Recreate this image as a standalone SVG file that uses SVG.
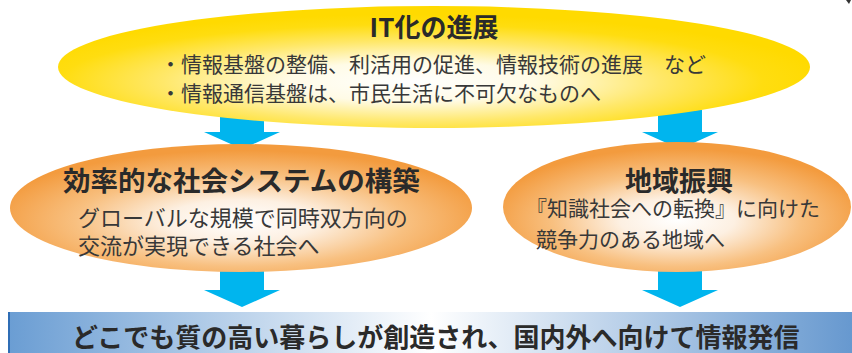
<svg xmlns="http://www.w3.org/2000/svg" width="852" height="353" viewBox="0 0 852 353">
<defs>
<radialGradient id="gy" cx="0.47" cy="0.62" r="0.55">
<stop offset="0" stop-color="#ffffff"/>
<stop offset="0.3" stop-color="#fffbe6"/>
<stop offset="0.6" stop-color="#ffe86a"/>
<stop offset="0.85" stop-color="#ffdd10"/>
<stop offset="1" stop-color="#ffda00"/>
</radialGradient>
<radialGradient id="go" cx="0.5" cy="0.6" r="0.55">
<stop offset="0" stop-color="#ffffff"/>
<stop offset="0.3" stop-color="#fdf0e2"/>
<stop offset="0.65" stop-color="#f8c080"/>
<stop offset="1" stop-color="#f39b3e"/>
</radialGradient>
<linearGradient id="gb" x1="0" y1="0" x2="1" y2="0">
<stop offset="0" stop-color="#6a9dd3"/>
<stop offset="0.5" stop-color="#ffffff"/>
<stop offset="1" stop-color="#6698cf"/>
</linearGradient>
<path id="arrow" d="M-22,0 H22 V22 H38 L0,39 L-38,22 H-22 Z"/>
</defs>
<style>
text { font-family: "Noto Sans CJK JP", "Noto Sans", sans-serif; fill: #383838; }
.t { font-weight: bold; fill: #2a2a2a; }
.arr { fill: #00b5ee; }
</style>
<rect width="852" height="353" fill="#ffffff"/>
<polygon points="846,0 851,0 849,4" fill="#333333"/>

<g id="connectors">
<use href="#arrow" class="arr" x="242" y="110"/>
<use href="#arrow" class="arr" x="680" y="110"/>
<use href="#arrow" class="arr" x="242" y="268"/>
<use href="#arrow" class="arr" x="680" y="268"/>
</g>

<g id="node-bottom">
<rect x="8" y="312" width="846" height="45" fill="url(#gb)"/>
<rect x="8" y="312" width="2" height="45" fill="#2f6db5"/>
<text class="t" x="72" y="347" font-size="26">どこでも質の高い暮らしが創造され、国内外へ向けて情報発信</text>
</g>

<g id="node-left">
<ellipse cx="241" cy="208" rx="231" ry="64" fill="url(#go)"/>
<text class="t" x="63" y="191" font-size="27.5">効率的な社会システムの構築</text>
<text x="78" y="226" font-size="22">グローバルな規模で同時双方向の</text>
<text x="78" y="254" font-size="22">交流が実現できる社会へ</text>
</g>

<g id="node-right">
<ellipse cx="677" cy="207" rx="174" ry="65" fill="url(#go)"/>
<text class="t" x="679" y="191" font-size="27" text-anchor="middle">地域振興</text>
<text x="526" y="216" font-size="21">『知識社会への転換』に向けた</text>
<text x="536" y="247" font-size="21">競争力のある地域へ</text>
</g>

<g id="node-top">
<ellipse cx="434" cy="67" rx="376" ry="61" fill="url(#gy)"/>
<text class="t" x="434" y="37" font-size="26" text-anchor="middle">IT化の進展</text>
<text x="160" y="72" font-size="21">・情報基盤の整備、利活用の促進、情報技術の進展　など</text>
<text x="160" y="101" font-size="21">・情報通信基盤は、市民生活に不可欠なものへ</text>
</g>
</svg>
